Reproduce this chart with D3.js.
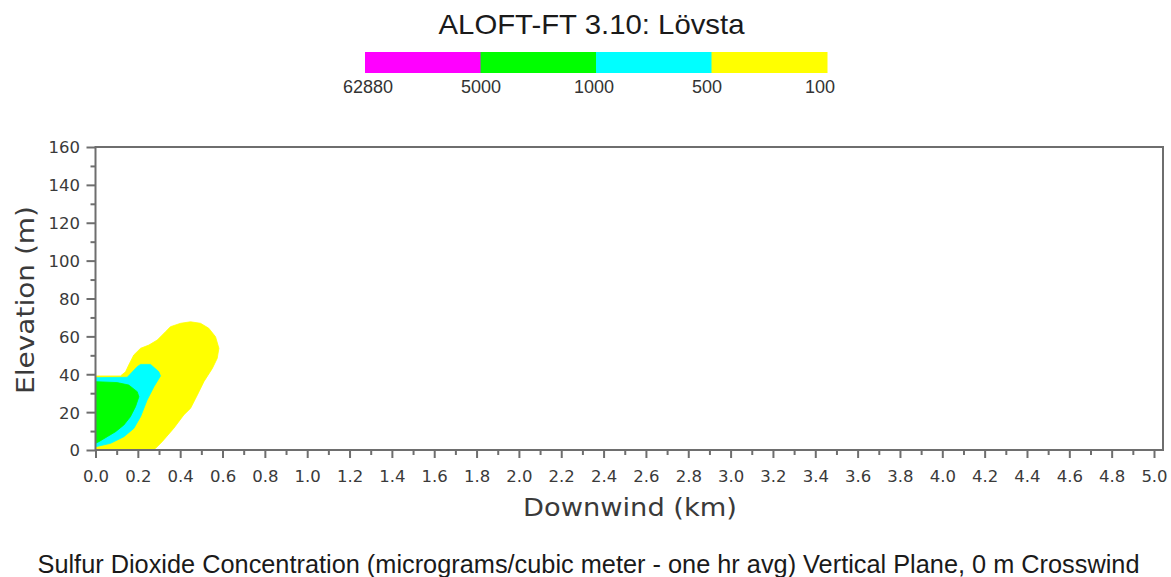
<!DOCTYPE html>
<html>
<head>
<meta charset="utf-8">
<script src="https://cdn.jsdelivr.net/npm/d3@7"></script>
<style>
  html, body { margin: 0; padding: 0; background: #fff; }
  svg { display: block; }
</style>
</head>
<body>
<svg id="chart" width="1171" height="577"></svg>
<script>
// Concentration bins shown in the colour key (highest first)
const legendLabels = ["62880", "5000", "1000", "500", "100"];
const legendColors = ["#ff00ff", "#00ff00", "#00ffff", "#ffff00"];

// Axis ticks
const xMajorTicks = d3.range(0, 26).map(i => i * 0.2);
const xMinorTicks = d3.range(0, 50).map(i => i * 0.1 + 0.1).filter((v, i) => i % 2 === 0);
const yMajorTicks = [0, 20, 40, 60, 80, 100, 120, 140, 160];
const yMinorTicks = [10, 30, 50, 70, 90, 110, 130, 150];

// Contour outlines: downwind distance (km) and elevation (m)
const yellow100X = [0, 0, 0.118, 0.142, 0.157, 0.181, 0.213, 0.252, 0.292, 0.331, 0.354, 0.402, 0.449, 0.496, 0.535, 0.567, 0.583, 0.575, 0.552, 0.512, 0.481, 0.449, 0.417, 0.370, 0.315, 0.284, 0.274];
const yellow100Y = [0, 39.1, 39.1, 41.3, 44.9, 50.2, 53.7, 55.4, 58.1, 62.5, 65.1, 66.9, 67.7, 66.9, 64.3, 59.8, 53.7, 48.4, 43.1, 36.1, 29.0, 22.0, 18.5, 11.5, 4.4, 0.9, 0];

const cyan500X = [0, 0, 0.150, 0.197, 0.213, 0.260, 0.299, 0.307, 0.276, 0.244, 0.213, 0.181, 0.134, 0.071, 0];
const cyan500Y = [1.7, 38.2, 38.4, 44.0, 45.2, 45.2, 41.3, 39.1, 33.4, 26.4, 17.6, 11.4, 7.0, 3.5, 1.7];

const green1000X = [0, 0, 0.102, 0.157, 0.197, 0.205, 0.189, 0.165, 0.134, 0.095, 0.055, 0.016, 0];
const green1000Y = [3.5, 36.1, 35.6, 34.3, 30.8, 28.1, 22.9, 17.6, 13.2, 9.7, 7.0, 4.4, 3.5];

const titleText = "ALOFT-FT 3.10: Lövsta";
const xTitle = "Downwind (km)";
const yTitle = "Elevation (m)";
const captionText = "Sulfur Dioxide Concentration (micrograms/cubic meter - one hr avg) Vertical Plane, 0 m Crosswind";

const svg = d3.select("#chart");

// Plot geometry
const plot = { left: 95.5, right: 1163, top: 147, bottom: 450 };
const x = d3.scaleLinear().domain([0, 5]).range([plot.left, 1154]);
const y = d3.scaleLinear().domain([0, 160]).range([plot.bottom, plot.top]);

const axisColor = "#6e6e6e";
const labelFont = "'DejaVu Sans', sans-serif";
const sansFont = "'Liberation Sans', Arial, sans-serif";

// Title
svg.append("text")
  .attr("x", 591.5).attr("y", 34)
  .attr("text-anchor", "middle")
  .attr("textLength", 306).attr("lengthAdjust", "spacingAndGlyphs")
  .style("font-family", sansFont).style("font-size", "28px")
  .attr("fill", "#1a1a1a")
  .text(titleText);

// Colour key
const keyBand = d3.scaleBand().domain(d3.range(legendColors.length)).range([365, 827]).padding(0);
svg.append("g").selectAll("rect")
  .data(legendColors)
  .join("rect")
  .attr("x", (d, i) => keyBand(i))
  .attr("y", 52)
  .attr("width", keyBand.bandwidth() + 0.5)
  .attr("height", 21)
  .attr("fill", d => d);

const keyPoint = d3.scalePoint().domain(legendLabels).range([368, 820]);
svg.append("g").selectAll("text")
  .data(legendLabels)
  .join("text")
  .attr("x", d => keyPoint(d))
  .attr("y", 93)
  .attr("text-anchor", "middle")
  .style("font-family", sansFont).style("font-size", "18px")
  .attr("fill", "#333")
  .text(d => d);

// Clip the contour fills to the plotting area
svg.append("clipPath").attr("id", "plotClip")
  .append("rect")
  .attr("x", plot.left).attr("y", plot.top)
  .attr("width", plot.right - plot.left).attr("height", plot.bottom - plot.top);

const contourLine = d3.line()
  .x(d => x(d[0]))
  .y(d => y(d[1]))
  .curve(d3.curveLinearClosed);

const contours = [
  { xs: yellow100X, ys: yellow100Y, color: legendColors[3] },
  { xs: cyan500X, ys: cyan500Y, color: legendColors[2] },
  { xs: green1000X, ys: green1000Y, color: legendColors[1] }
];

svg.append("g").attr("clip-path", "url(#plotClip)")
  .selectAll("path")
  .data(contours)
  .join("path")
  .attr("d", c => contourLine(c.xs.map((v, i) => [v, c.ys[i]])))
  .attr("fill", c => c.color)
  .attr("stroke", c => c.color)
  .attr("stroke-width", 0.8)
  .attr("stroke-linejoin", "round");

// Frame
svg.append("rect")
  .attr("x", plot.left).attr("y", plot.top)
  .attr("width", plot.right - plot.left).attr("height", plot.bottom - plot.top)
  .attr("fill", "none")
  .attr("stroke", axisColor)
  .attr("stroke-width", 2);

// X axis: minor then major ticks
const xMinor = svg.append("g")
  .attr("transform", `translate(0,${plot.bottom})`)
  .call(d3.axisBottom(x).tickValues(xMinorTicks).tickSize(5).tickSizeOuter(0).tickFormat(""));
const xMajor = svg.append("g")
  .attr("transform", `translate(0,${plot.bottom})`)
  .call(d3.axisBottom(x).tickValues(xMajorTicks).tickSize(8).tickSizeOuter(0).tickFormat(d3.format(".1f")));

// Y axis: minor then major ticks
const yMinor = svg.append("g")
  .attr("transform", `translate(${plot.left},0)`)
  .call(d3.axisLeft(y).tickValues(yMinorTicks).tickSize(5).tickSizeOuter(0).tickFormat(""));
const yMajor = svg.append("g")
  .attr("transform", `translate(${plot.left},0)`)
  .call(d3.axisLeft(y).tickValues(yMajorTicks).tickSize(9).tickSizeOuter(0));

[xMinor, xMajor, yMinor, yMajor].forEach(g => {
  g.select(".domain").remove();
  g.selectAll(".tick line").attr("stroke", axisColor).attr("stroke-width", 2);
});

xMajor.selectAll(".tick text")
  .attr("y", 32).attr("dy", 0)
  .style("font-family", labelFont).style("font-size", "16.5px")
  .attr("fill", "#3a3a3a");

yMajor.selectAll(".tick text")
  .attr("x", -15.5).attr("dy", "0.36em")
  .style("font-family", labelFont).style("font-size", "16.5px")
  .attr("fill", "#3a3a3a");

// Axis titles
svg.append("text")
  .attr("x", 630).attr("y", 516)
  .attr("text-anchor", "middle")
  .attr("textLength", 214).attr("lengthAdjust", "spacingAndGlyphs")
  .style("font-family", labelFont).style("font-size", "25px")
  .attr("fill", "#3a3a3a")
  .text(xTitle);

svg.append("text")
  .attr("transform", "translate(34,300) rotate(-90)")
  .attr("text-anchor", "middle")
  .attr("textLength", 188).attr("lengthAdjust", "spacingAndGlyphs")
  .style("font-family", labelFont).style("font-size", "25px")
  .attr("fill", "#3a3a3a")
  .text(yTitle);

// Caption
svg.append("text")
  .attr("x", 588.5).attr("y", 573)
  .attr("text-anchor", "middle")
  .attr("textLength", 1102).attr("lengthAdjust", "spacingAndGlyphs")
  .style("font-family", sansFont).style("font-size", "25px")
  .attr("fill", "#1a1a1a")
  .text(captionText);
</script>
</body>
</html>
